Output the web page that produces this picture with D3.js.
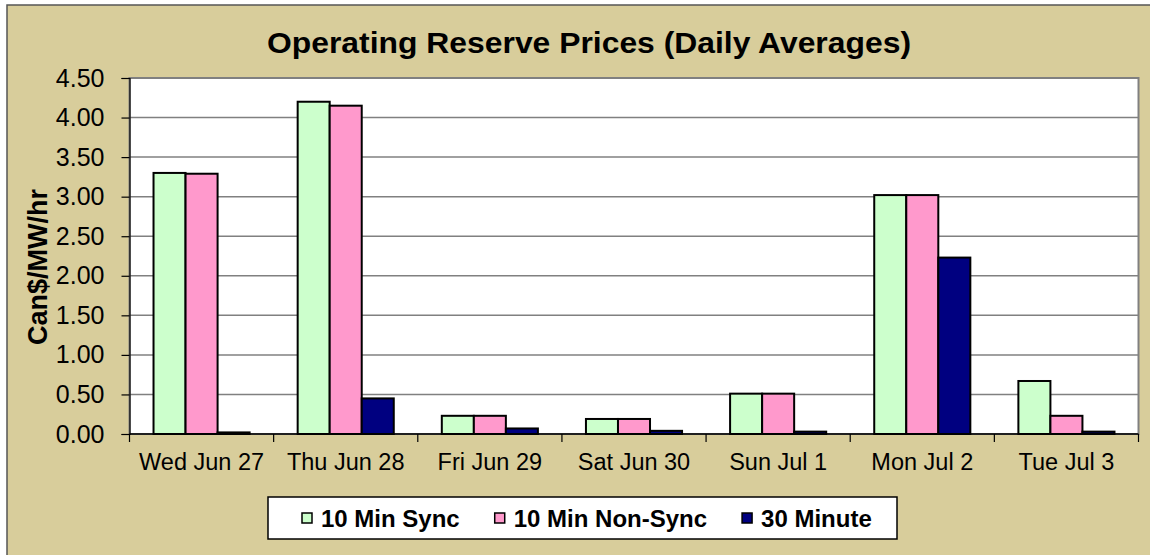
<!DOCTYPE html>
<html>
<head>
<meta charset="utf-8">
<script src="https://cdn.jsdelivr.net/npm/d3@7"></script>
<style>
  body { margin: 0; background: #ffffff; }
  svg { display: block; font-family: Arial, "Liberation Sans", sans-serif; }
</style>
</head>
<body>
<script>
// datos
const categories = ["Wed Jun 27", "Thu Jun 28", "Fri Jun 29", "Sat Jun 30", "Sun Jul 1", "Mon Jul 2", "Tue Jul 3"]
const seriesNames = ["10 Min Sync", "10 Min Non-Sync", "30 Minute"]
const sync10 = [3.30, 4.20, 0.23, 0.19, 0.51, 3.02, 0.67]
const nonSync10 = [3.29, 4.15, 0.23, 0.19, 0.51, 3.02, 0.23]
const min30 = [0.02, 0.45, 0.07, 0.04, 0.03, 2.23, 0.03]
const yTicks = [0, 0.5, 1, 1.5, 2, 2.5, 3, 3.5, 4, 4.5]

const colores = ["#ccffcc", "#ff99cc", "#000080"]
const series = [sync10, nonSync10, min30]

const W = 1150, H = 555
const plot = { left: 129.5, right: 1138.5, top: 78, bottom: 434 }

const svg = d3.select("body").append("svg")
    .attr("width", W)
    .attr("height", H)

// fondo del gráfico
svg.append("rect")
    .attr("x", 7).attr("y", 5)
    .attr("width", 1300).attr("height", 700)
    .attr("fill", "#d8cd9b")
    .attr("stroke", "#555")
    .attr("stroke-width", 1.5)

// área de trazado
svg.append("rect")
    .attr("x", plot.left).attr("y", plot.top)
    .attr("width", plot.right - plot.left)
    .attr("height", plot.bottom - plot.top)
    .attr("fill", "#ffffff")
    .attr("stroke", "#808080")
    .attr("stroke-width", 2)

const x0 = d3.scaleBand()
    .domain(categories)
    .range([plot.left, plot.right])
    .paddingInner(0).paddingOuter(0)

const bw = x0.bandwidth()
const x1 = d3.scaleBand()
    .domain(d3.range(seriesNames.length))
    .range([bw / 6, bw * 5 / 6])
    .padding(0)

const y = d3.scaleLinear()
    .domain([0, 4.5])
    .range([plot.bottom, plot.top])

// líneas de cuadrícula
svg.append("g")
    .selectAll("line")
    .data(yTicks.filter(d => d > 0 && d < 4.5))
    .enter()
    .append("line")
    .attr("x1", plot.left).attr("x2", plot.right)
    .attr("y1", d => y(d)).attr("y2", d => y(d))
    .style("stroke", "#808080")
    .style("stroke-width", 1.5)

// barras
const grupos = svg.append("g")
    .selectAll("g")
    .data(categories)
    .enter()
    .append("g")
    .attr("transform", d => "translate(" + x0(d) + ",0)")

grupos.selectAll("rect")
    .data((d, i) => series.map((s, k) => ({ k: k, v: s[i] })))
    .enter()
    .append("rect")
    .attr("x", d => x1(d.k))
    .attr("width", x1.bandwidth())
    .attr("y", d => y(d.v))
    .attr("height", d => y(0) - y(d.v))
    .attr("fill", d => colores[d.k])
    .attr("stroke", "#000")
    .attr("stroke-width", 2)

// eje Y
const ejeY = svg.append("g")
    .attr("transform", "translate(" + plot.left + ",0)")
    .call(d3.axisLeft(y).tickValues(yTicks).tickFormat(d3.format(".2f")).tickSize(8).tickPadding(17))
ejeY.select(".domain").attr("stroke", "#000").attr("stroke-width", 1.2)
ejeY.selectAll(".tick line").attr("stroke", "#000").attr("stroke-width", 1.2)
ejeY.selectAll("text")
    .style("font-size", "25px")
    .style("font-family", "Arial, 'Liberation Sans', sans-serif")
    .attr("fill", "#000")

// eje X: etiquetas centradas, marcas entre categorías
const ejeX = svg.append("g")
    .attr("transform", "translate(0," + plot.bottom + ")")
    .call(d3.axisBottom(x0).tickSize(0).tickPadding(19))
ejeX.select(".domain").remove()
ejeX.selectAll("text")
    .style("font-size", "23.5px")
    .style("font-family", "Arial, 'Liberation Sans', sans-serif")
    .attr("fill", "#000")

svg.append("line")
    .attr("x1", plot.left).attr("x2", plot.right)
    .attr("y1", y(0)).attr("y2", y(0))
    .style("stroke", "#000")
    .style("stroke-width", 1.5)

svg.append("g")
    .selectAll("line")
    .data(categories.concat(["_fin"]))
    .enter()
    .append("line")
    .attr("x1", (d, i) => i < categories.length ? x0(d) : x0(categories[categories.length - 1]) + bw)
    .attr("x2", (d, i) => i < categories.length ? x0(d) : x0(categories[categories.length - 1]) + bw)
    .attr("y1", y(0)).attr("y2", y(0) + 8)
    .style("stroke", "#000")
    .style("stroke-width", 1.2)

// título
svg.append("text")
    .attr("x", 589).attr("y", 53)
    .attr("text-anchor", "middle")
    .attr("textLength", 644)
    .attr("lengthAdjust", "spacingAndGlyphs")
    .style("font-size", "30px")
    .style("font-weight", "bold")
    .text("Operating Reserve Prices (Daily Averages)")

// título del eje Y
svg.append("text")
    .attr("transform", "translate(46.5,267) rotate(-90)")
    .attr("text-anchor", "middle")
    .style("font-size", "27px")
    .style("font-weight", "bold")
    .text("Can$/MW/hr")

// leyenda
const leyenda = svg.append("g")
leyenda.append("rect")
    .attr("x", 268).attr("y", 497)
    .attr("width", 629).attr("height", 42)
    .attr("fill", "#ffffff")
    .attr("stroke", "#000")
    .attr("stroke-width", 1.5)

let posX = 302
seriesNames.forEach((nombre, k) => {
    leyenda.append("rect")
        .attr("x", posX).attr("y", 513)
        .attr("width", 10).attr("height", 10)
        .attr("fill", colores[k])
        .attr("stroke", "#000")
        .attr("stroke-width", 1.5)
    const t = leyenda.append("text")
        .attr("x", posX + 19).attr("y", 527)
        .style("font-size", "24px")
        .style("font-weight", "bold")
        .text(nombre)
    posX = posX + 19 + t.node().getComputedTextLength() + 35
})
</script>
</body>
</html>
